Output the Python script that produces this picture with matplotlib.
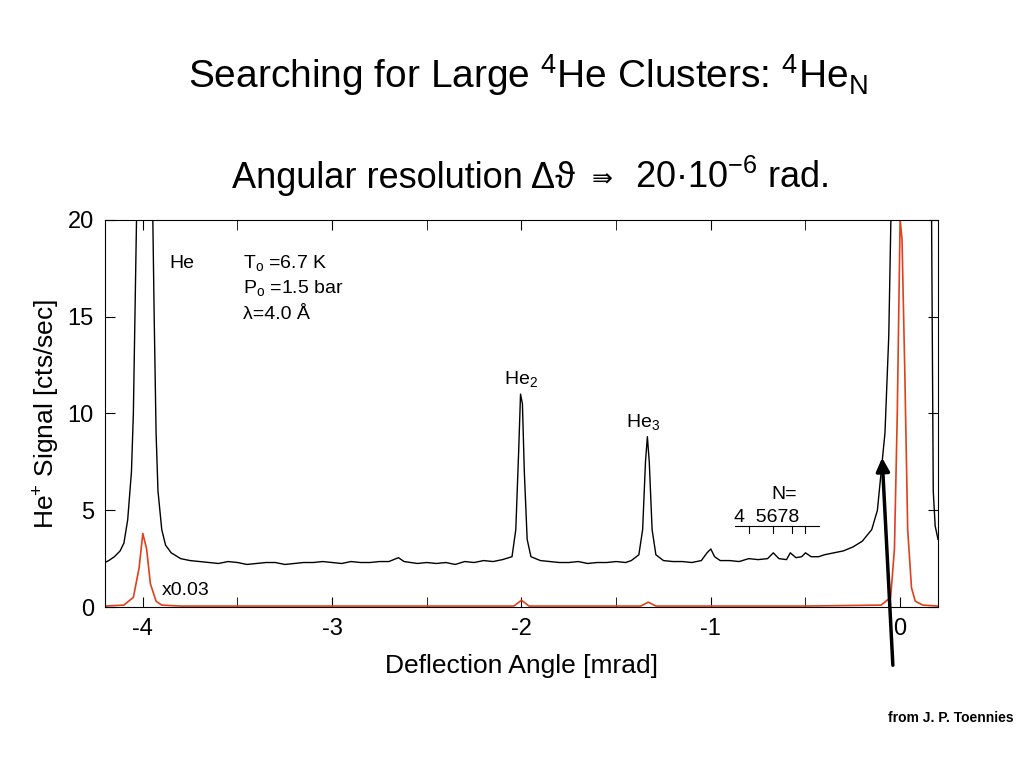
import matplotlib
matplotlib.use("Agg")
import matplotlib.pyplot as plt

black_x = [-4.2,-4.18,-4.15,-4.12,-4.10,-4.08,-4.06,-4.05,-4.04,-4.03,-3.95,-3.94,-3.93,-3.92,-3.90,-3.88,-3.85,-3.8,-3.75,-3.7,-3.65,-3.6,-3.55,-3.5,-3.45,-3.4,-3.35,-3.3,-3.25,-3.2,-3.15,-3.1,-3.05,-3.0,-2.95,-2.9,-2.85,-2.8,-2.75,-2.7,-2.65,-2.62,-2.55,-2.5,-2.45,-2.4,-2.35,-2.3,-2.25,-2.2,-2.15,-2.1,-2.05,-2.03,-2.015,-2.005,-1.995,-1.985,-1.97,-1.95,-1.9,-1.85,-1.8,-1.75,-1.7,-1.65,-1.6,-1.55,-1.5,-1.45,-1.42,-1.38,-1.36,-1.345,-1.335,-1.325,-1.31,-1.29,-1.25,-1.2,-1.15,-1.1,-1.05,-1.02,-1.0,-0.98,-0.95,-0.9,-0.85,-0.8,-0.75,-0.7,-0.67,-0.64,-0.6,-0.58,-0.55,-0.52,-0.5,-0.47,-0.43,-0.4,-0.35,-0.3,-0.25,-0.2,-0.15,-0.12,-0.1,-0.08,-0.06,-0.045,0.165,0.175,0.185,0.2]
black_y = [2.3,2.4,2.6,2.9,3.3,4.5,7,10,16,22,22,15,9,6,4,3.2,2.8,2.5,2.4,2.35,2.3,2.25,2.35,2.3,2.2,2.25,2.3,2.3,2.2,2.25,2.3,2.3,2.35,2.3,2.25,2.35,2.3,2.3,2.35,2.35,2.55,2.35,2.25,2.3,2.25,2.3,2.2,2.35,2.3,2.4,2.35,2.45,2.6,4,8,11,10.5,7,3.5,2.6,2.4,2.35,2.3,2.3,2.35,2.25,2.3,2.3,2.35,2.3,2.4,2.7,4,7.5,8.8,7.5,4,2.7,2.4,2.35,2.35,2.3,2.4,2.8,3.0,2.6,2.4,2.4,2.35,2.5,2.45,2.5,2.8,2.5,2.45,2.8,2.55,2.6,2.8,2.6,2.6,2.7,2.8,2.9,3.1,3.4,4.0,5.0,7.0,9.0,14,22,22,6,4.2,3.5]
red_x = [-4.2,-4.1,-4.05,-4.02,-4.0,-3.98,-3.96,-3.93,-3.9,-3.8,-3.0,-2.04,-2.0,-1.96,-1.37,-1.33,-1.29,-0.5,-0.1,-0.05,-0.03,-0.015,0.0,0.01,0.025,0.04,0.06,0.08,0.12,0.2]
red_y = [0.05,0.1,0.5,2.0,3.8,3.0,1.2,0.3,0.1,0.05,0.05,0.05,0.35,0.05,0.05,0.25,0.05,0.05,0.1,0.5,3,10,20,19,12,4,1,0.3,0.1,0.05]
xticks = [-4,-3,-2,-1,0]
yticks = [0,5,10,15,20]

plt.rcParams['font.family'] = ['Liberation Sans', 'DejaVu Sans']
plt.rcParams['mathtext.fontset'] = 'custom'
plt.rcParams['mathtext.rm'] = 'Liberation Sans'
plt.rcParams['mathtext.it'] = 'Liberation Sans'
fig = plt.figure(figsize=(10.24,7.68), dpi=100)
ax = fig.add_axes([0.1025,0.2096,0.8135,0.504])
ax.plot(black_x, black_y, color='black', lw=1)
ax.plot(red_x, red_y, color='#e0401a', lw=1.2)
ax.set_xlim(-4.2,0.2); ax.set_ylim(0,20)
ax.set_xticks(xticks); ax.set_xticklabels([str(t) for t in xticks])
ax.set_xticks([-3.5,-2.5,-1.5,-0.5], minor=True)
ax.set_yticks(yticks)
ax.tick_params(direction='in', which='both', top=True, right=True, labelsize=17, length=7, pad=8)
ax.set_xlabel('Deflection Angle [mrad]', fontsize=19, labelpad=10)
ax.set_ylabel('He$^{+}$ Signal [cts/sec]', fontsize=19)

fig.text(0.515,0.885,'Searching for Large $^{4}$He Clusters: $^{4}$He$_{\\mathregular{N}}$', ha='center', fontsize=28)
fig.text(0.227,0.755,'Angular resolution Δϑ', ha='left', fontsize=26)
fig.text(0.578,0.757,'⇛', ha='left', fontsize=18, family='DejaVu Sans')
fig.text(0.62,0.755,'20·10$^{-6}$ rad.', ha='left', fontsize=26)
fig.text(0.99,0.06,'from J. P. Toennies', ha='right', fontsize=10, weight='bold')

ax.text(-3.86,17.5,'He', fontsize=14)
ax.text(-3.47,17.5,'T$_{\\mathregular{o}}$ =6.7 K', fontsize=14)
ax.text(-3.47,16.2,'P$_{\\mathregular{o}}$ =1.5 bar', fontsize=14)
ax.text(-3.47,14.9,'λ=4.0 Å', fontsize=14)
ax.text(-2.09,11.5,'He$_{\\mathregular{2}}$', fontsize=14)
ax.text(-1.45,9.3,'He$_{\\mathregular{3}}$', fontsize=14)
ax.text(-0.68,5.6,'N=', fontsize=14)
ax.text(-0.88,4.4,'4  5678', fontsize=14)
ax.plot([-0.87,-0.43],[4.2,4.2], color='black', lw=0.8)
for xv in [-0.8,-0.67,-0.57,-0.5]:
    ax.plot([xv,xv],[4.2,3.8], color='black', lw=0.8)
ax.text(-3.9,0.6,'x0.03', fontsize=14)
ax.annotate('', xy=(882/1024,1-455/768), xytext=(893/1024,1-668/768), xycoords='figure fraction',
            arrowprops=dict(arrowstyle='-|>', color='black', lw=2.5, mutation_scale=20))
fig.savefig('out.png', dpi=100)
